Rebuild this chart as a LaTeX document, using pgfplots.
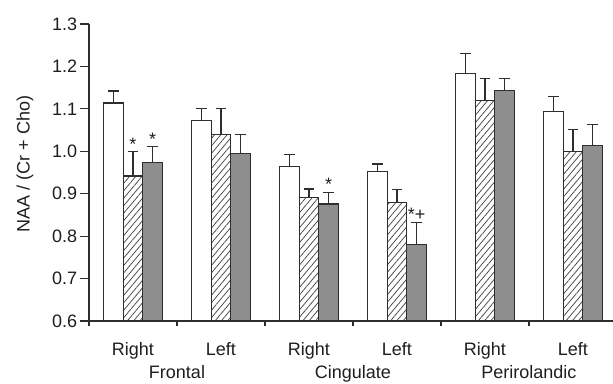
\documentclass[border=0pt]{standalone}
\usepackage{pgfplots}
\pgfplotsset{compat=1.18}
\usepackage{pgfplotstable}
\usetikzlibrary{patterns.meta}
\usepackage{fontspec}
\setmainfont{Liberation Sans}
\definecolor{barfill}{HTML}{8E8E8E}
\definecolor{edge}{HTML}{2E2E2E}
\definecolor{txt}{HTML}{1E1E1E}
\newcommand{\lblfont}{\fontsize{13.5pt}{15pt}\selectfont}
\pgfplotstableread{
x w we h he g ge
0 1.114 0.028 0.942 0.057 0.973 0.038
1 1.072 0.029 1.039 0.062 0.994 0.046
2 0.964 0.028 0.891 0.020 0.876 0.027
3 0.953 0.017 0.880 0.030 0.781 0.051
4 1.183 0.047 1.120 0.051 1.143 0.028
5 1.094 0.036 1.000 0.051 1.013 0.050
}\datatab
\begin{document}
\begin{tikzpicture}
\lblfont
\begin{axis}[
  scale only axis,
  width=393pt, height=222.75pt,
  ybar, bar width=0.222,
  xmin=-0.5, xmax=5.455,
  ymin=0.6, ymax=1.3,
  axis x line=bottom, axis y line=left,
  axis line style={-, edge, line width=0.8pt},
  tick style={edge, line width=0.8pt},
  tick align=outside,
  ytick style={/pgfplots/major tick length=6.75pt},
  xtick style={/pgfplots/major tick length=3.75pt},
  ytick={0.6,0.7,...,1.3},
  /pgf/number format/fixed, /pgf/number format/fixed zerofill, /pgf/number format/precision=1, /pgf/number format/assume math mode=true,
  yticklabel style={text=txt, font=\lblfont},
  xtick={-0.5,0.5,...,4.5},
  xticklabels={},
  extra x ticks={0,1,2,3,4,5},
  extra x tick labels={Right,Left,Right,Left,Right,Left},
  extra x tick style={xtick style={/pgfplots/major tick length=0pt}, xticklabel style={text=txt, font=\lblfont, anchor=base, yshift=-21.75pt}},
  ylabel={NAA / (Cr + Cho)},
  ylabel style={at={(axis description cs:-0.122,0.529)}, anchor=center, text=txt, font=\lblfont},
  clip=false,
  error bars/error bar style={edge, line width=0.9pt},
  error bars/error mark options={edge, line width=0.9pt, mark size=4pt, rotate=90},
]
\addplot[fill=white, draw=edge, line width=0.9pt, bar shift=-0.222,
  error bars/.cd, y dir=plus, y explicit]
  table[x=x, y=w, y error=we] {\datatab};
\addplot[pattern={Lines[angle=50, distance=3.6pt, line width=0.55pt]}, pattern color=edge!90, draw=edge, line width=0.9pt, bar shift=0,
  error bars/.cd, y dir=plus, y explicit]
  table[x=x, y=h, y error=he] {\datatab};
\addplot[fill=barfill, draw=edge, line width=0.9pt, bar shift=0.222,
  error bars/.cd, y dir=plus, y explicit]
  table[x=x, y=g, y error=ge] {\datatab};
\node[anchor=south, inner sep=1pt, text=txt] at (axis cs:0,0.999) {*};
\node[anchor=south, inner sep=1pt, text=txt] at (axis cs:0.222,1.011) {*};
\node[anchor=south, inner sep=1pt, text=txt] at (axis cs:2.222,0.903) {*};
\node[anchor=south, inner sep=1pt, text=txt] at (axis cs:3.222,0.832) {*+};
\node[text=txt, anchor=base] at ([yshift=-43.3pt]axis cs:0.5,0.6) {Frontal};
\node[text=txt, anchor=base] at ([yshift=-43.3pt]axis cs:2.5,0.6) {Cingulate};
\node[text=txt, anchor=base] at ([yshift=-43.3pt]axis cs:4.5,0.6) {Perirolandic};
\end{axis}
\pgfresetboundingbox
\path[use as bounding box] ([xshift=-66.75pt,yshift=-46.5pt]current axis.south west) rectangle ++(459.75pt,287.25pt);
\end{tikzpicture}
\end{document}
